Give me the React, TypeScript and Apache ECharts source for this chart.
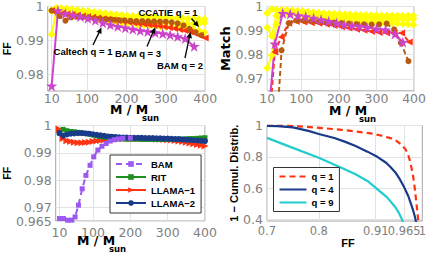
import React, { useEffect, useRef } from "react";
import * as echarts from "echarts";

// ---------------- Panel A (top-left): FF vs M / Msun ----------------
const massYellow = [10, 22, 34, 48, 62, 76, 90, 104, 118, 132, 146, 160, 174, 188, 202, 216, 230, 244, 258, 272, 286, 300, 314, 328, 342, 356, 370, 384, 398];
const ffCcatieHiA = [0.9990, 0.9996, 0.9995, 0.9994, 0.9992, 0.9990, 0.9988, 0.9986, 0.9984, 0.9982, 0.9980, 0.9978, 0.9976, 0.9975, 0.9973, 0.9972, 0.9971, 0.9970, 0.9969, 0.9968, 0.9967, 0.9966, 0.9966, 0.9965, 0.9965, 0.9964, 0.9964, 0.9963, 0.9962];
const ffCcatieMidA = [0.9986, 0.9990, 0.9988, 0.9986, 0.9984, 0.9982, 0.9979, 0.9977, 0.9974, 0.9972, 0.9969, 0.9967, 0.9965, 0.9963, 0.9961, 0.9959, 0.9957, 0.9956, 0.9955, 0.9954, 0.9953, 0.9952, 0.9951, 0.9950, 0.9950, 0.9949, 0.9949, 0.9950, 0.9952];
const ffCcatieLoA = [0.9918, 0.9986, 0.9982, 0.9979, 0.9976, 0.9973, 0.9970, 0.9967, 0.9964, 0.9961, 0.9958, 0.9956, 0.9954, 0.9952, 0.9950, 0.9948, 0.9946, 0.9945, 0.9944, 0.9942, 0.9941, 0.9940, 0.9939, 0.9938, 0.9937, 0.9935, 0.9932, 0.9928, 0.9924];
const massBam2A = [10, 23, 36, 49, 62, 75, 88, 101, 114, 127, 140, 153, 166, 179, 192, 205, 218, 231, 244, 257, 270, 283, 296, 309, 322, 335, 348, 361, 374, 387, 400];
const ffBam2A = [0.9988, 0.9982, 0.9980, 0.9978, 0.9976, 0.9974, 0.9972, 0.9970, 0.9968, 0.9966, 0.9964, 0.9962, 0.9960, 0.9958, 0.9956, 0.9954, 0.9952, 0.9950, 0.9948, 0.9946, 0.9944, 0.9942, 0.9940, 0.9938, 0.9935, 0.9932, 0.9929, 0.9925, 0.9920, 0.9914, 0.9907];
const massBam3A = [10, 30, 45, 60, 75, 90, 105, 120, 135, 150, 165, 180, 195, 210, 225, 240, 255, 270, 285, 300, 315, 330, 345, 360, 375, 390];
const ffBam3A = [0.9988, 0.9972, 0.9958, 0.9968, 0.9970, 0.9969, 0.9967, 0.9965, 0.9963, 0.9962, 0.9961, 0.9960, 0.9959, 0.9958, 0.9957, 0.9957, 0.9956, 0.9956, 0.9955, 0.9955, 0.9953, 0.9950, 0.9944, 0.9934, 0.9924, 0.9915];
const massCaltechA = [10, 26, 45, 64, 83, 102, 121, 140, 159, 178, 197, 216, 235, 254, 273, 292, 311, 330, 349, 372];
const ffCaltechA = [0.9765, 0.9988, 0.9979, 0.9975, 0.9970, 0.9965, 0.9959, 0.9952, 0.9946, 0.9941, 0.9937, 0.9933, 0.9929, 0.9926, 0.9923, 0.9920, 0.9916, 0.9911, 0.9905, 0.9882];

// ---------------- Panel B (top-right): Match vs M / Msun ----------------
const matchCcatieHiB = [0.9972, 0.9990, 0.9986, 0.9986, 0.9985, 0.9984, 0.9982, 0.9980, 0.9978, 0.9976, 0.9974, 0.9972, 0.9971, 0.9970, 0.9969, 0.9968, 0.9967, 0.9966, 0.9965, 0.9965, 0.9964, 0.9964, 0.9963, 0.9963, 0.9963, 0.9962, 0.9962, 0.9962, 0.9962];
const matchCcatieMidB = [0.9912, 0.9878, 0.9962, 0.9982, 0.9980, 0.9978, 0.9976, 0.9974, 0.9971, 0.9968, 0.9966, 0.9963, 0.9961, 0.9959, 0.9957, 0.9955, 0.9954, 0.9953, 0.9952, 0.9951, 0.9950, 0.9950, 0.9949, 0.9949, 0.9948, 0.9948, 0.9948, 0.9948, 0.9948];
const matchCcatieLoB = [0.9745, 0.9798, 0.9925, 0.9975, 0.9972, 0.9969, 0.9966, 0.9963, 0.9960, 0.9957, 0.9954, 0.9951, 0.9948, 0.9946, 0.9944, 0.9942, 0.9940, 0.9938, 0.9937, 0.9936, 0.9935, 0.9934, 0.9933, 0.9932, 0.9931, 0.9930, 0.9928, 0.9926, 0.9924];
const massBam2B = [10, 30, 47, 67, 87, 107, 127, 147, 167, 187, 207, 227, 247, 267, 287, 307, 327, 347, 367, 387];
const matchBam2B = [0.941, 0.9811, 0.9873, 0.9930, 0.9938, 0.9936, 0.9933, 0.9930, 0.9926, 0.9921, 0.9916, 0.9911, 0.9906, 0.9901, 0.9896, 0.9892, 0.9890, 0.9890, 0.9890, 0.9853];
const massBam3B = [30, 48, 67, 87, 107, 127, 147, 167, 187, 207, 227, 247, 267, 287, 307, 327, 347, 365, 385];
const matchBam3B = [0.938, 0.9818, 0.9931, 0.9942, 0.9941, 0.9939, 0.9937, 0.9935, 0.9933, 0.9931, 0.9929, 0.9927, 0.9926, 0.9925, 0.9926, 0.9929, 0.9905, 0.9849, 0.9773];
const massCaltechB = [10, 30, 51, 71, 92, 112, 133, 153, 173, 194, 214, 235, 255, 275, 300, 324, 349, 370];
const matchCaltechB = [0.949, 0.9845, 0.9972, 0.9969, 0.9962, 0.9958, 0.9952, 0.9946, 0.9939, 0.9932, 0.9925, 0.9921, 0.9918, 0.9914, 0.9907, 0.9903, 0.9886, 0.9852];

// ---------------- Panel C (bottom-left): FF of NR codes ----------------
const massBam = [10, 21, 32, 43, 52, 61, 71, 81, 92, 102, 113, 124, 135, 146, 157, 168, 180, 200];
const ffBam = [0.9659, 0.9659, 0.9653, 0.9653, 0.9665, 0.9708, 0.9768, 0.9817, 0.9854, 0.9885, 0.9910, 0.9924, 0.9934, 0.9943, 0.9948, 0.9951, 0.9953, 0.9954];
const massNR = [10, 20, 30, 40, 50, 60, 70, 80, 90, 100, 110, 120, 130, 140, 150, 160, 170, 180, 190, 200, 210, 220, 230, 240, 250, 260, 270, 280, 290, 300, 310, 320, 330, 340, 350, 360, 370, 380, 390, 400];
const ffRit = [0.9972, 0.9986, 0.9981, 0.9978, 0.9977, 0.9975, 0.9973, 0.9971, 0.9968, 0.9965, 0.9962, 0.9960, 0.9957, 0.9955, 0.9953, 0.9952, 0.9951, 0.9951, 0.9950, 0.9950, 0.9950, 0.9950, 0.9949, 0.9949, 0.9949, 0.9949, 0.9949, 0.9949, 0.9949, 0.9949, 0.9949, 0.9950, 0.9950, 0.9950, 0.9951, 0.9952, 0.9952, 0.9953, 0.9954, 0.9955];
const ffLlama1 = [0.9986, 0.9952, 0.9944, 0.9941, 0.9939, 0.9937, 0.9937, 0.9938, 0.9939, 0.9941, 0.9943, 0.9945, 0.9947, 0.9948, 0.9949, 0.9950, 0.9951, 0.9951, 0.9952, 0.9952, 0.9952, 0.9952, 0.9952, 0.9952, 0.9951, 0.9951, 0.9950, 0.9950, 0.9949, 0.9948, 0.9947, 0.9945, 0.9943, 0.9941, 0.9939, 0.9936, 0.9933, 0.9930, 0.9928, 0.9925];
const ffLlama2 = [0.9972, 0.9963, 0.9967, 0.9970, 0.9971, 0.9972, 0.9972, 0.9971, 0.9970, 0.9968, 0.9966, 0.9964, 0.9962, 0.9960, 0.9959, 0.9958, 0.9957, 0.9956, 0.9956, 0.9955, 0.9955, 0.9955, 0.9955, 0.9954, 0.9954, 0.9954, 0.9953, 0.9953, 0.9952, 0.9952, 0.9951, 0.9950, 0.9950, 0.9949, 0.9948, 0.9947, 0.9946, 0.9945, 0.9944, 0.9943];

// ---------------- Panel D (bottom-right): 1 - cumulative distribution ----------------
const ffQ1 = [0.70, 0.74, 0.76, 0.80, 0.84, 0.87, 0.90, 0.92, 0.94, 0.95, 0.96, 0.967, 0.972, 0.976, 0.979, 0.982, 0.985, 0.987, 0.989, 0.991, 0.9925];
const cdfQ1 = [1.000, 0.999, 0.995, 0.985, 0.974, 0.962, 0.950, 0.936, 0.918, 0.902, 0.876, 0.850, 0.820, 0.775, 0.730, 0.680, 0.610, 0.550, 0.490, 0.430, 0.380];
const ffQ4 = [0.70, 0.72, 0.75, 0.78, 0.80, 0.83, 0.85, 0.87, 0.894, 0.913, 0.93, 0.938, 0.948, 0.957, 0.965, 0.973, 0.978, 0.982, 0.985, 0.987, 0.988];
const cdfQ4 = [0.998, 0.996, 0.988, 0.966, 0.946, 0.920, 0.897, 0.870, 0.833, 0.800, 0.762, 0.737, 0.700, 0.654, 0.605, 0.548, 0.500, 0.460, 0.425, 0.397, 0.380];
const ffQ9 = [0.70, 0.75, 0.80, 0.85, 0.87, 0.894, 0.913, 0.932, 0.948, 0.955, 0.960, 0.963];
const cdfQ9 = [0.921, 0.857, 0.794, 0.720, 0.690, 0.646, 0.594, 0.541, 0.478, 0.440, 0.405, 0.380];

// ---------------- tick values ----------------
const massTicks = [10, 100, 200, 300, 400];
const ffTicksA = [0.98, 0.99, 1];
const matchTicksB = [0.97, 0.98, 0.99, 1];
const ffTicksC = [0.965, 0.97, 0.98, 0.99, 1];
const cdfTicksD = [0.4, 0.6, 0.8, 1];
const ffTicksD = [0.7, 0.8, 0.91];
const ffTicksDHigh = [0.965];
const ffTicksDEnd = [1];

const STAR = "path://M50,0 L61.8,35.1 L98.9,35.1 L68.9,57.1 L80.3,92.2 L50,70.6 L19.7,92.2 L31.1,57.1 L1.1,35.1 L38.2,35.1 Z";
const YELLOW = "#ffff00";
const RED = "#ff3311";
const BROWN = "#b85a10";
const MAGENTA = "#cc44cc";
const PURPLE = "#9b59f0";
const GREEN = "#1f8f1f";
const NAVY = "#1a3a8a";
const CYAN = "#22cccc";

const zip = (xs: number[], ys: number[]) => xs.map((x, i) => [x, ys[i]]);

const tickLabel = { color: "#808080", fontFamily: "DejaVu Sans", fontSize: 12.5, showMinLabel: true, showMaxLabel: true };
const split = { show: true, lineStyle: { color: "#e2e2e2", width: 1 } };

function xAxisCfg(gridIndex: number, min: number, max: number, ticks: number[], margin: number, showSplit = true, fontSize = 12.5) {
  return {
    type: "value", gridIndex, min, max, position: "bottom", offset: 0,
    axisLine: { show: false },
    axisTick: { show: false, customValues: ticks },
    axisLabel: { ...tickLabel, fontSize, lineHeight: 12, margin, customValues: ticks },
    splitLine: showSplit ? split : { show: false },
  };
}
function yAxisCfg(gridIndex: number, min: number, max: number, ticks: number[], name: string, nameGap: number, nameStyle: any) {
  return {
    type: "value", gridIndex, min, max,
    axisLine: { show: false },
    axisTick: { show: false, customValues: ticks },
    axisLabel: { ...tickLabel, margin: 4, customValues: ticks },
    splitLine: split,
    name, nameLocation: "middle", nameGap,
    nameTextStyle: { color: "#000", fontWeight: "bold", ...nameStyle },
  };
}

function lineSeries(name: string, idx: number, data: number[][], color: string, symbol: string, size: number, extra: any = {}) {
  return {
    type: "line", name, xAxisIndex: idx, yAxisIndex: idx, data,
    symbol, symbolSize: size, showSymbol: true,
    itemStyle: { color },
    lineStyle: { color, width: 2 },
    clip: true,
    ...extra,
  };
}

function arrow(x1: number, y1: number, x2: number, y2: number) {
  const ang = Math.atan2(y2 - y1, x2 - x1);
  const L = 6, W = 2.8;
  const bx = x2 - L * Math.cos(ang), by = y2 - L * Math.sin(ang);
  const px = -Math.sin(ang) * W, py = Math.cos(ang) * W;
  return [
    { type: "line", shape: { x1, y1, x2: bx, y2: by }, style: { stroke: "#000", lineWidth: 1.3 }, z: 100 },
    { type: "polygon", shape: { points: [[x2, y2], [bx + px, by + py], [bx - px, by - py]] }, style: { fill: "#000" }, z: 100 },
  ];
}
function label(text: string, x: number, y: number, font: string, align = "left") {
  return { type: "text", x, y, z: 100, style: { text, font, fill: "#000", align, verticalAlign: "middle" } };
}

export default function App() {
  const ref = useRef<HTMLDivElement>(null);
  useEffect(() => {
    if (!ref.current) return;
    const chart = echarts.init(ref.current, undefined, { renderer: "svg" });
    const annFont = 'bold 9.5px "Liberation Sans"';
    const titleFont = 'bold 12.5px "DejaVu Sans"';
    const subFont = 'bold 8.5px "DejaVu Sans"';
    const option: any = {
      animation: false,
      backgroundColor: "#fff",
      textStyle: { fontFamily: "DejaVu Sans" },
      grid: [
        { left: 40.7, top: 5.5, width: 164.5, height: 85.5, show: true, borderColor: "#a6a6a6", borderWidth: 1, containLabel: false },
        { left: 267.3, top: 5.5, width: 158, height: 85.3, show: true, borderColor: "#a6a6a6", borderWidth: 1, containLabel: false },
        { left: 40, top: 125.5, width: 165, height: 95.5, show: true, borderColor: "#a6a6a6", borderWidth: 1, containLabel: false },
        { left: 267, top: 125.5, width: 159, height: 95.5, show: true, borderColor: "#a6a6a6", borderWidth: 1, containLabel: false },
      ],
      xAxis: [
        xAxisCfg(0, 0, 400, massTicks, 1),
        xAxisCfg(1, 10, 400, massTicks, 2),
        xAxisCfg(2, 0, 400, massTicks, 5),
        xAxisCfg(3, 0.7, 1, ffTicksD, 4, true, 11.5),
        xAxisCfg(3, 0.7, 1, ffTicksDHigh, 4, true, 11.5),
        xAxisCfg(3, 0.7, 1, ffTicksDEnd, 4, false, 11.5),
      ],
      yAxis: [
        yAxisCfg(0, 0.975, 1, ffTicksA, "FF", 27, { fontFamily: "Liberation Sans", fontSize: 10.5 }),
        yAxisCfg(1, 0.965, 1, matchTicksB, "Match", 28, { fontFamily: "DejaVu Sans", fontSize: 13 }),
        yAxisCfg(2, 0.965, 1, ffTicksC, "FF", 26, { fontFamily: "Liberation Sans", fontSize: 10.5 }),
        yAxisCfg(3, 0.39, 1, cdfTicksD, "1 − Cumul. Distrib.", 24, { fontFamily: "Liberation Sans", fontSize: 11 }),
      ],
      legend: [
        {
          data: ["BAM", "RIT", "LLAMA−1", "LLAMA−2"],
          orient: "vertical", left: 110, top: 155,
          itemWidth: 30, itemHeight: 7, itemGap: 3,
          padding: [4, 6, 5, 5],
          borderColor: "#333", borderWidth: 1, backgroundColor: "#fff",
          selectedMode: false,
          textStyle: { fontFamily: "Liberation Sans", fontWeight: "bold", fontSize: 9.5, color: "#000" },
        },
        {
          data: ["q = 1", "q = 4", "q = 9"],
          orient: "vertical", left: 273.5, top: 167.5,
          itemWidth: 27, itemHeight: 1, itemGap: 3,
          padding: [4, 6, 4, 5],
          borderColor: "#333", borderWidth: 1, backgroundColor: "#fff",
          selectedMode: false,
          textStyle: { fontFamily: "Liberation Sans", fontWeight: "bold", fontSize: 9.5, color: "#000" },
        },
      ],
      series: [
        // Panel A
        lineSeries("CCATIE q = 1 hi (FF)", 0, zip(massYellow, ffCcatieHiA), YELLOW, "diamond", 8),
        lineSeries("CCATIE q = 1 mid (FF)", 0, zip(massYellow, ffCcatieMidA), YELLOW, "diamond", 8),
        lineSeries("CCATIE q = 1 lo (FF)", 0, zip(massYellow, ffCcatieLoA), YELLOW, "diamond", 8),
        lineSeries("BAM q = 2 (FF)", 0, zip(massBam2A, ffBam2A), RED, "triangle", 7, { symbolRotate: 90 }),
        lineSeries("BAM q = 3 (FF)", 0, zip(massBam3A, ffBam3A), BROWN, "circle", 6, { lineStyle: { color: BROWN, width: 2, type: [5, 3] } }),
        lineSeries("Caltech q = 1 (FF)", 0, zip(massCaltechA, ffCaltechA), MAGENTA, STAR, 11),
        // Panel B
        lineSeries("CCATIE q = 1 hi (Match)", 1, zip(massYellow, matchCcatieHiB), YELLOW, "diamond", 8),
        lineSeries("CCATIE q = 1 mid (Match)", 1, zip(massYellow, matchCcatieMidB), YELLOW, "diamond", 8),
        lineSeries("CCATIE q = 1 lo (Match)", 1, zip(massYellow, matchCcatieLoB), YELLOW, "diamond", 8),
        lineSeries("BAM q = 2 (Match)", 1, zip(massBam2B, matchBam2B), RED, "triangle", 7, { symbolRotate: 90, lineStyle: { color: RED, width: 2, type: [5, 3] } }),
        lineSeries("BAM q = 3 (Match)", 1, zip(massBam3B, matchBam3B), BROWN, "circle", 6, { lineStyle: { color: BROWN, width: 2, type: [5, 3] } }),
        lineSeries("Caltech q = 1 (Match)", 1, zip(massCaltechB, matchCaltechB), MAGENTA, STAR, 11),
        // Panel C
        lineSeries("LLAMA−1", 2, zip(massNR, ffLlama1), RED, "triangle", 7, { symbolRotate: -90 }),
        lineSeries("RIT", 2, zip(massNR, ffRit), GREEN, "rect", 5),
        lineSeries("LLAMA−2", 2, zip(massNR, ffLlama2), NAVY, "circle", 6),
        lineSeries("BAM", 2, zip(massBam, ffBam), PURPLE, "rect", 5, { lineStyle: { color: PURPLE, width: 2, type: [6, 4] } }),
        // Panel D
        lineSeries("q = 1", 3, zip(ffQ1, cdfQ1), RED, "none", 0, { showSymbol: false, lineStyle: { color: RED, width: 2.2, type: [6, 4] } }),
        lineSeries("q = 4", 3, zip(ffQ4, cdfQ4), NAVY, "none", 0, { showSymbol: false, lineStyle: { color: NAVY, width: 2.2 } }),
        lineSeries("q = 9", 3, zip(ffQ9, cdfQ9), CYAN, "none", 0, { showSymbol: false, lineStyle: { color: CYAN, width: 2.2 } }),
      ],
      graphic: {
        elements: [
          label("CCATIE q = 1", 168, 12.5, annFont, "center"),
          label("Caltech q = 1", 83, 51, annFont, "center"),
          label("BAM q = 3", 138, 53.5, annFont, "center"),
          label("BAM q = 2", 180, 65, annFont, "center"),
          ...arrow(191.5, 18.5, 199, 27),
          ...arrow(93, 45, 101.5, 27.5),
          ...arrow(147, 46.5, 155, 27.5),
          ...arrow(185, 58, 190.5, 32),
          label("M / M", 110, 109, titleFont),
          label("sun", 142, 117.5, subFont),
          label("M / M", 329, 110, titleFont),
          label("sun", 359, 118.5, subFont),
          label("M / M", 77, 240, titleFont),
          label("sun", 109, 248.5, subFont),
          label("FF", 348, 243, 'bold 11px "Liberation Sans"', "center"),
        ],
      },
    };
    chart.setOption(option);
    return () => chart.dispose();
  }, []);
  return <div ref={ref} style={{ position: "fixed", left: 0, top: 0, width: 429, height: 254, background: "#fff" }} />;
}
